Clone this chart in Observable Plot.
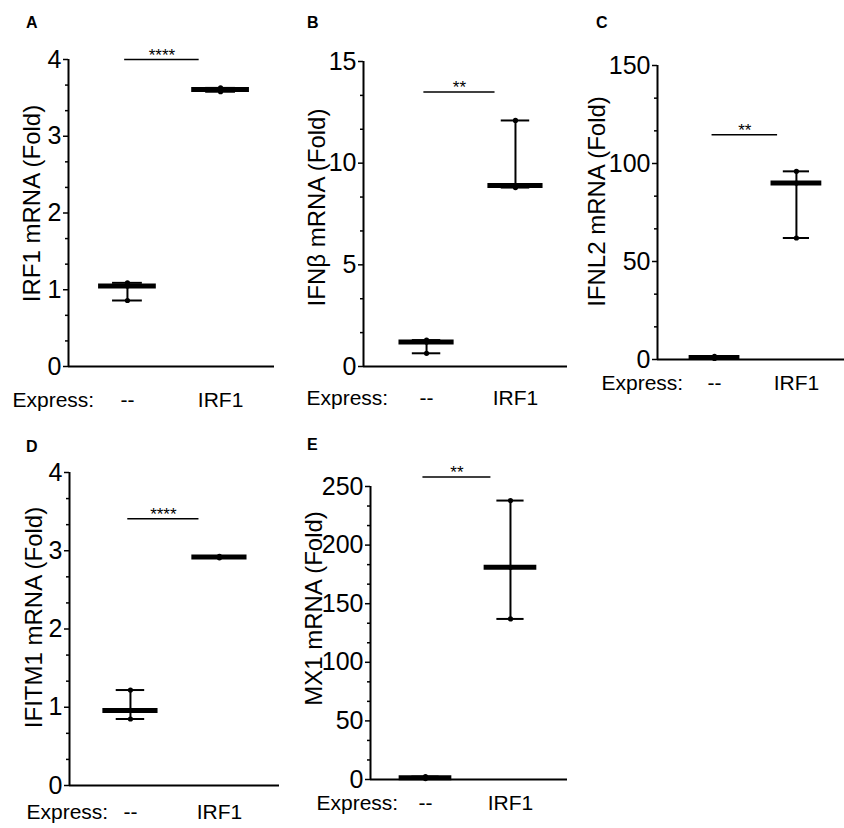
<!DOCTYPE html>
<html>
<head>
<meta charset="utf-8">
<script src="https://cdn.jsdelivr.net/npm/d3@7"></script>
<script src="https://cdn.jsdelivr.net/npm/@observablehq/plot@0.6"></script>
<style>
  html, body { margin: 0; padding: 0; background: #fff; }
  #root { position: relative; width: 844px; height: 828px; font-family: Arial, "Liberation Sans", sans-serif; color: #000; }
  .panel { position: absolute; }
  .panel svg { overflow: visible; background: transparent; }
  .letter { position: absolute; font-weight: bold; font-size: 16px; line-height: 16px; font-family: Arial, "Liberation Sans", sans-serif; }
</style>
</head>
<body>
<div id="root"></div>
<script>
// ---- data ----
const panelLetters = ["A", "B", "C", "D", "E"];
const yLabels = ["IRF1 mRNA (Fold)", "IFNβ mRNA (Fold)", "IFNL2 mRNA (Fold)", "IFITM1 mRNA (Fold)", "MX1 mRNA (Fold)"];
const groupNames = ["--", "IRF1"];
const axisPrefix = "Express:";
const yMax = [4, 15, 150, 4, 250];
const majorStep = [1, 5, 50, 1, 50];
const ctrlPoints = [[1.09, 1.05, 0.86], [1.3, 1.2, 0.65], [1.6, 1.0, 0.5], [1.22, 0.96, 0.85], [2.5, 1.5, 0.8]];
const irf1Points = [[3.63, 3.61, 3.58], [12.1, 8.9, 8.8], [96, 90, 62], [2.93, 2.92, 2.91], [238, 181, 137]];
const ctrlCenter = [1.05, 1.2, 1.0, 0.96, 1.5];
const irf1Center = [3.61, 8.9, 90, 2.92, 181];
const sigY = [4.0, 13.5, 114.7, 3.41, 258];
const sigStars = ["****", "**", "**", "****", "**"];

// ---- layout (pixels) ----
const layout = [
  {left: 0,   top: 0,   width: 280, height: 400, ml: 68, mr: 6,  mt: 59, mb: 34, xd: [-0.633, 1.579], lab: [-36, -9.5], catTop: 26, exLeft: 12, letter: [26, 15]},
  {left: 290, top: 0,   width: 280, height: 400, ml: 73, mr: 3,  mt: 61, mb: 34, xd: [-0.709, 1.585], lab: [-46, -6.5], catTop: 24, exLeft: 306, letter: [307, 15]},
  {left: 570, top: 0,   width: 274, height: 400, ml: 87, mr: 0,  mt: 65, mb: 41, xd: [-0.696, 1.587], lab: [-60, -11],  catTop: 16, exLeft: 601, letter: [596, 15]},
  {left: 0,   top: 400, width: 290, height: 400, ml: 69, mr: 11, mt: 72, mb: 15, xd: [-0.685, 1.675], lab: [-35, -11.5], catTop: 19, exLeft: 26, letter: [26, 439]},
  {left: 290, top: 400, width: 280, height: 400, ml: 80, mr: 3,  mt: 86, mb: 21, xd: [-0.647, 1.671], lab: [-56, -24.5], catTop: 16, exLeft: 316, letter: [307, 437]}
];

const root = document.getElementById("root");
const FONT = 'Arial, "Liberation Sans", sans-serif';

panelLetters.forEach((letter, i) => {
  const L = layout[i];
  const groups = groupNames.map((name, g) => {
    const pts = g === 0 ? ctrlPoints[i] : irf1Points[i];
    return {name, g, center: g === 0 ? ctrlCenter[i] : irf1Center[i], lo: d3.min(pts), hi: d3.max(pts)};
  });
  const points = groupNames.flatMap((name, g) => (g === 0 ? ctrlPoints[i] : irf1Points[i]).map(v => ({g, v})));
  const majors = d3.range(0, yMax[i] + 1e-9, majorStep[i]);
  const minors = d3.range(0, yMax[i] + 1e-9, majorStep[i] / 3).filter(v => majors.every(m => Math.abs(m - v) > 1e-6));
  const halfBar = 0.31, halfCap = 0.16;

  const chart = Plot.plot({
    width: L.width,
    height: L.height,
    marginLeft: L.ml, marginRight: L.mr, marginTop: L.mt, marginBottom: L.mb,
    style: {fontFamily: FONT, background: "transparent", overflow: "visible", color: "#000"},
    x: {type: "linear", domain: L.xd, axis: null},
    y: {domain: [0, yMax[i]]},
    marks: [
      // axes
      Plot.axisY(minors, {tickSize: 3, tickFormat: () => "", strokeWidth: 1.5, label: null}),
      Plot.axisY(majors, {tickSize: 5, tickPadding: 2, fontSize: 25, strokeWidth: 1.5, label: null, tickFormat: d => String(Math.round(d))}),
      Plot.ruleX([L.xd[0]], {y1: 0, y2: yMax[i], strokeWidth: 2}),
      Plot.ruleY([0], {strokeWidth: 2}),
      // y label
      Plot.text([yLabels[i]], {frameAnchor: "left", rotate: -90, dx: L.lab[0], dy: L.lab[1], fontSize: 24, textAnchor: "middle", lineAnchor: "middle"}),
      // category labels
      Plot.text(groups, {x: "g", text: "name", frameAnchor: "bottom", dy: L.catTop, lineAnchor: "top", fontSize: 21}),
      Plot.text([axisPrefix], {frameAnchor: "bottom-left", dx: L.exLeft - (L.left + L.ml), dy: L.catTop, lineAnchor: "top", textAnchor: "start", fontSize: 21}),
      // whiskers
      Plot.ruleX(groups, {x: "g", y1: "lo", y2: "hi", strokeWidth: 2}),
      Plot.ruleY(groups, {y: "lo", x1: d => d.g - halfCap, x2: d => d.g + halfCap, strokeWidth: 2}),
      Plot.ruleY(groups, {y: "hi", x1: d => d.g - halfCap, x2: d => d.g + halfCap, strokeWidth: 2}),
      // center bar
      Plot.ruleY(groups, {y: "center", x1: d => d.g - halfBar, x2: d => d.g + halfBar, strokeWidth: 5}),
      // replicate dots
      Plot.dot(points, {x: "g", y: "v", r: 2.6, fill: "#000"}),
      // significance
      Plot.ruleY([sigY[i]], {x1: -0.03, x2: 0.77, strokeWidth: 1.5}),
      Plot.text([sigStars[i]], {x: 0.37, y: sigY[i], dy: 1, lineAnchor: "bottom", fontSize: 17})
    ]
  });
  const div = document.createElement("div");
  div.className = "panel";
  div.style.left = L.left + "px";
  div.style.top = L.top + "px";
  div.appendChild(chart);
  root.appendChild(div);

  const lt = document.createElement("div");
  lt.className = "letter";
  lt.textContent = letter;
  lt.style.left = L.letter[0] + "px";
  lt.style.top = L.letter[1] + "px";
  root.appendChild(lt);
});
</script>
</body>
</html>
